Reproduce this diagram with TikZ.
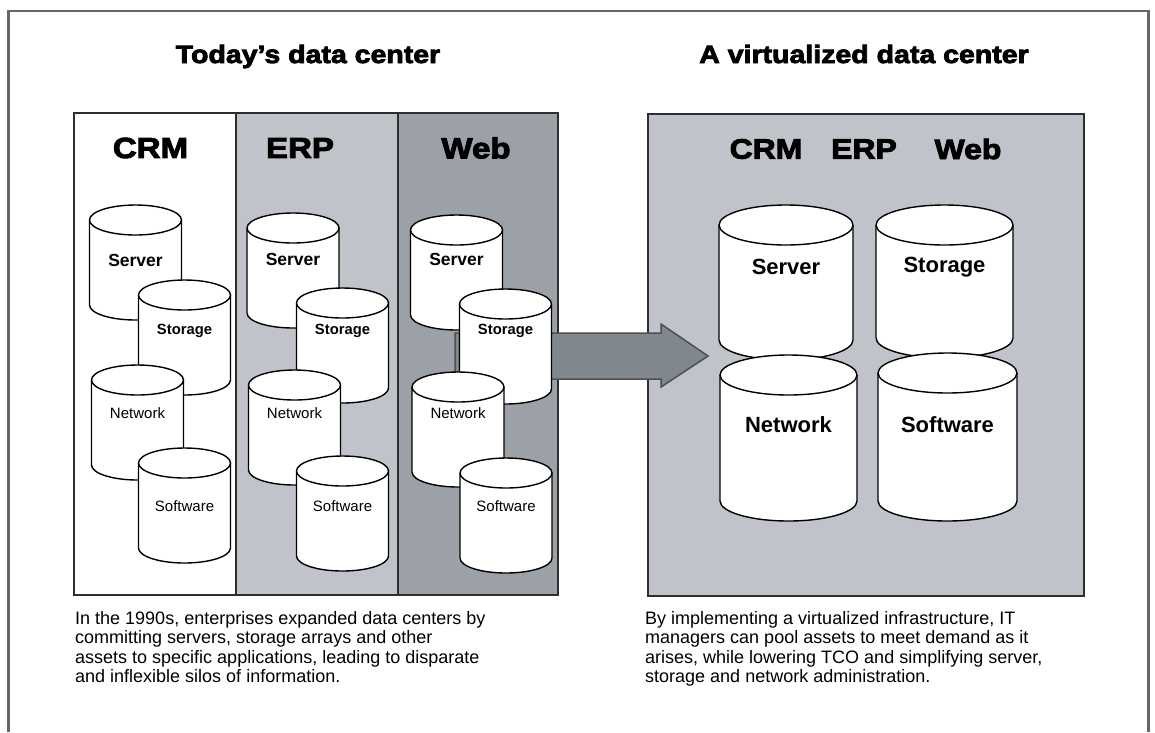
\documentclass[tikz,border=0pt]{standalone}
\usepackage{fontspec}
\setmainfont{Liberation Sans}
\newfontfamily\heavyfont{Liberation Sans}[BoldFeatures={FakeBold=3.2,FakeStretch=1.14}]
\usetikzlibrary{calc}

\definecolor{panellight}{HTML}{C0C3CA}
\definecolor{paneldark}{HTML}{9CA1A7}
\definecolor{arrowfill}{HTML}{80878D}
\definecolor{arrowline}{HTML}{4B5055}
\definecolor{framegray}{HTML}{666666}
\definecolor{panelline}{HTML}{2E2E2E}

\newcommand{\setpx}[2]{\fontsize{#1pt}{#2pt}\selectfont}

% Upright drum (cylinder): name, centre x, top y (downwards), width, height, cap radius
\newcommand{\drum}[6]{%
  \pgfmathsetmacro\cylL{#2-#4/2}%
  \pgfmathsetmacro\cylR{#2+#4/2}%
  \pgfmathsetmacro\cylT{-(#3+#6)}%
  \pgfmathsetmacro\cylB{-(#3+#5-#6)}%
  \pgfmathsetmacro\cylRx{#4/2}%
  \filldraw[drumline] (\cylL,\cylT) -- (\cylL,\cylB)
    arc[start angle=180,end angle=360,x radius=\cylRx pt,y radius=#6pt]
    -- (\cylR,\cylT)
    arc[start angle=0,end angle=180,x radius=\cylRx pt,y radius=#6pt] -- cycle;
  \draw[drumline] (\cylL,\cylT)
    arc[start angle=180,end angle=360,x radius=\cylRx pt,y radius=#6pt];
  \coordinate (#1) at (#2,{-(#3+#5/2)});
}

\tikzset{
  drumline/.style={draw=black,fill=white,line width=1.4pt,line join=round},
  panel/.style={draw=panelline,line width=1.5pt},
  heading/.style={font=\heavyfont\bfseries\setpx{25}{28},anchor=base},
  apptag/.style={font=\heavyfont\bfseries\setpx{29}{32}},
  apptagsmall/.style={font=\heavyfont\bfseries\setpx{28}{30}},
  boldlbl/.style={font=\bfseries\setpx{#1}{#1}},
  plainlbl/.style={font=\setpx{15}{15}},
  caption/.style={font=\setpx{18}{19.5},align=left,inner sep=0pt,anchor=north west},
  blockarrow/.style={fill=arrowfill,draw=arrowline,line width=1.5pt,line join=miter}
}

\begin{document}
\begin{tikzpicture}[x=1pt,y=1pt]
\useasboundingbox (0,0) rectangle (1155,-732);
\fill[white] (0,0) rectangle (1155,-732);

% outer frame, open at the bottom
\draw[framegray,line width=2.5pt] (8.5,-732) -- (8.5,-11) -- (1148.5,-11) -- (1148.5,-732);

% headings
\node[heading] (t-left) at (308,-63) {Today’s data center};
\node[heading] (t-right) at (864,-63) {A virtualized data center};

% siloed data centre: three columns
\fill[white] (74,-113) rectangle (236,-595);
\fill[panellight] (236,-113) rectangle (398,-595);
\fill[paneldark] (398,-113) rectangle (558,-595);
\draw[panel] (74,-113) rectangle (558,-595);
\draw[panel] (236,-113) -- (236,-595);
\draw[panel] (398,-113) -- (398,-595);

% virtualized data centre
\fill[panellight] (648,-114) rectangle (1084,-596);
\draw[panel] (648,-114) rectangle (1084,-596);

% column headings
\node[apptag] (crm-l) at (150.5,-148) {CRM};
\node[apptag] (erp-l) at (300,-148) {ERP};
\node[apptag] (web-l) at (476,-148) {Web};
\node[apptagsmall] (crm-r) at (766,-149) {CRM};
\node[apptagsmall] (erp-r) at (864,-149) {ERP};
\node[apptagsmall] (web-r) at (968,-149) {Web};

% block arrow between the two centres
\coordinate (arrowtail) at (455,-356);
\coordinate (arrowtip) at (708,-356);
\draw[blockarrow] ($(arrowtail)+(0,23)$) -- ($(arrowtip)+(-47,23)$) -- ++(0,9)
  -- (arrowtip) -- ($(arrowtip)+(-47,-31)$) -- ++(0,8)
  -- ($(arrowtail)+(0,-23)$) -- cycle;

% CRM silo
\drum{crm-server}{135.5}{205}{92}{115}{15}
\node[boldlbl=17.5] (crm-server-t) at (135.5,-260) {Server};
\drum{crm-storage}{184.5}{280}{92}{115}{15}
\node[boldlbl=14.8] (crm-storage-t) at (184.5,-331) {Storage};
\drum{crm-network}{137.5}{365}{92}{115}{15}
\node[plainlbl] (crm-network-t) at (137.5,-413) {Network};
\drum{crm-software}{184.5}{448}{92}{115}{15}
\node[plainlbl] (crm-software-t) at (184.5,-506) {Software};

% ERP silo
\drum{erp-server}{293}{213}{92}{115}{15}
\node[boldlbl=17.5] (erp-server-t) at (293,-259) {Server};
\drum{erp-storage}{342.5}{288}{92}{115}{15}
\node[boldlbl=14.8] (erp-storage-t) at (342.5,-331) {Storage};
\drum{erp-network}{294.5}{370}{92}{115}{15}
\node[plainlbl] (erp-network-t) at (294.5,-413) {Network};
\drum{erp-software}{342.5}{456}{92}{115}{15}
\node[plainlbl] (erp-software-t) at (342.5,-506) {Software};

% Web silo
\drum{web-server}{456.5}{215}{92}{115}{15}
\node[boldlbl=17.5] (web-server-t) at (456.5,-259) {Server};
\drum{web-storage}{505.5}{289}{92}{115}{15}
\node[boldlbl=14.8] (web-storage-t) at (505.5,-331) {Storage};
\drum{web-network}{458}{372}{92}{115}{15}
\node[plainlbl] (web-network-t) at (458,-413) {Network};
\drum{web-software}{506}{458}{92}{115}{15}
\node[plainlbl] (web-software-t) at (506,-506) {Software};

% pooled resources
\drum{v-server}{786}{205}{134}{155}{20}
\node[boldlbl=22] (v-server-t) at (786,-267) {Server};
\drum{v-storage}{944.5}{205}{137}{153}{20}
\node[boldlbl=22] (v-storage-t) at (944.5,-267) {Storage};
\drum{v-network}{788.5}{355}{137}{166}{20}
\node[boldlbl=22] (v-network-t) at (788.5,-425) {Network};
\drum{v-software}{947.5}{353}{139}{168}{20}
\node[boldlbl=22] (v-software-t) at (947.5,-425) {Software};

% captions
\node[caption] (cap-left) at (75,-611) {In the 1990s, enterprises expanded data centers by\\
committing servers, storage arrays and other\\
assets to specific applications, leading to disparate\\
and inflexible silos of information.};
\node[caption] (cap-right) at (645,-611) {By implementing a virtualized infrastructure, IT\\
managers can pool assets to meet demand as it\\
arises, while lowering TCO and simplifying server,\\
storage and network administration.};
\end{tikzpicture}
\end{document}
